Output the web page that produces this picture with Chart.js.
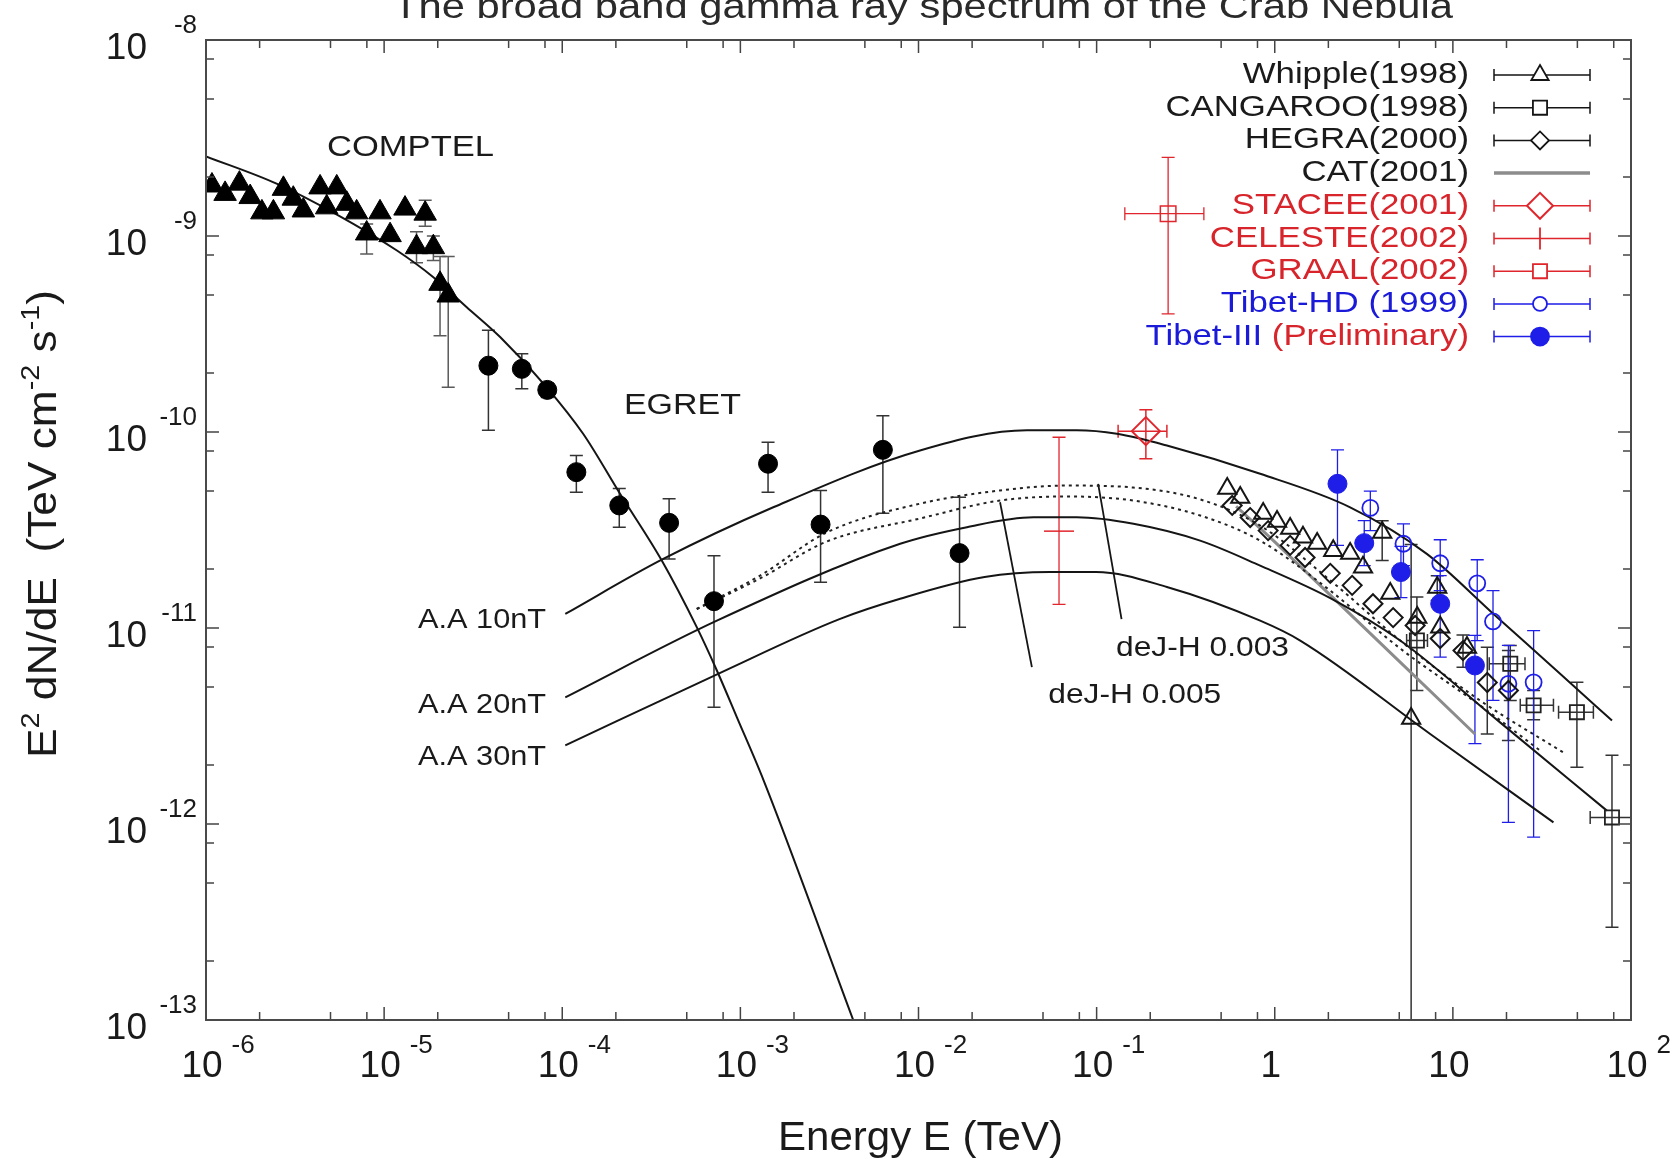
<!DOCTYPE html>
<html>
<head>
<meta charset="utf-8">
<script src="https://cdn.jsdelivr.net/npm/chart.js@4.4.1/dist/chart.umd.min.js"></script>
<style>html,body{margin:0;padding:0;background:#fff;overflow:hidden}canvas{display:block}</style>
</head>
<body>
<canvas id="c" width="1672" height="1161" style="width:1672px;height:1161px"></canvas>
<script>
// ================= DATA =================
// Energy in TeV, flux E^2 dN/dE in TeV cm^-2 s^-1
const comptelE = [1.08e-6,1.28e-6,1.54e-6,1.77e-6,2.06e-6,2.39e-6,2.72e-6,3.09e-6,3.52e-6,4.37e-6,4.76e-6,5.42e-6,6.17e-6,7.01e-6,7.98e-6,9.48e-6,1.08e-5,1.31e-5,1.52e-5,1.70e-5,1.89e-5,2.06e-5,2.29e-5];
const comptelF = [1.81e-9,1.64e-9,1.85e-9,1.58e-9,1.32e-9,1.32e-9,1.74e-9,1.55e-9,1.35e-9,1.77e-9,1.40e-9,1.77e-9,1.46e-9,1.32e-9,1.03e-9,1.32e-9,1.01e-9,1.38e-9,8.77e-10,1.30e-9,8.77e-10,5.70e-10,4.97e-10];
const comptelHi = [null,null,null,null,null,null,null,null,null,null,null,null,null,null,1.15e-9,null,null,null,1.05e-9,1.52e-9,1.0e-9,7.85e-10,7.85e-10];
const comptelLo = [null,null,null,null,null,null,null,null,null,null,null,null,null,null,8.1e-10,null,null,null,7.3e-10,1.12e-9,7.5e-10,3.10e-10,1.69e-10];

const egretE  = [3.85e-5,5.93e-5,8.24e-5,1.20e-4,2.09e-4,3.98e-4,7.11e-4,1.43e-3,2.82e-3,6.31e-3,1.70e-2];
const egretF  = [2.18e-10,2.10e-10,1.64e-10,6.24e-11,4.22e-11,3.44e-11,1.37e-11,6.89e-11,3.37e-11,8.11e-11,2.41e-11];
const egretHi = [3.30e-10,2.51e-10,1.78e-10,7.59e-11,5.15e-11,4.56e-11,2.34e-11,8.87e-11,5.03e-11,1.21e-10,4.65e-11];
const egretLo = [1.02e-10,1.66e-10,1.50e-10,4.93e-11,3.27e-11,2.25e-11,3.94e-12,4.93e-11,1.71e-11,3.85e-11,1.01e-11];

const whipE  = [0.541,0.640,0.861,1.03,1.22,1.44,1.73,2.13,2.65,3.13,4.01,4.45,5.83,6.31,8.17,8.49,12.0];
const whipF  = [5.15e-11,4.63e-11,3.84e-11,3.49e-11,3.22e-11,2.90e-11,2.70e-11,2.48e-11,2.40e-11,2.04e-11,3.07e-11,1.50e-11,3.45e-12,1.13e-11,1.61e-11,1.01e-11,7.96e-12];
const whipHi = [null,null,null,null,null,null,null,null,null,null,3.53e-11,null,2.67e-11,null,1.85e-11,null,null];
const whipLo = [null,null,null,null,null,null,null,null,null,null,2.21e-11,null,1.0e-14,null,1.38e-11,null,null];

const hegraE  = [0.577,0.728,0.918,1.22,1.48,2.05,2.72,3.56,4.62,6.14,8.49,11.4,15.6,20.5];
const hegraF  = [4.22e-11,3.66e-11,3.14e-11,2.64e-11,2.29e-11,1.90e-11,1.65e-11,1.33e-11,1.13e-11,1.03e-11,8.84e-12,7.67e-12,5.27e-12,4.80e-12];
const hegraHi = [null,null,null,null,null,null,null,null,null,null,null,9.2e-12,7.98e-12,7.67e-12];
const hegraLo = [null,null,null,null,null,null,null,null,null,null,null,6.3e-12,2.88e-12,2.67e-12];

const cangE   = [6.28,21.0,28.4,49.7,78.2];
const cangF   = [8.63e-12,6.57e-12,4.03e-12,3.72e-12,1.08e-12];
const cangHi  = [1.44e-11,8.15e-12,4.8e-12,5.28e-12,2.24e-12];
const cangLo  = [4.80e-12,4.27e-12,3.4e-12,1.95e-12,2.97e-13];
const cangXLo = [5.5,16.0,23.9,39.2,59.0];
const cangXHi = [7.2,25.4,36.7,61.5,100];

const staceeE = [0.189], staceeF = [1.01e-10], staceeHi = [1.30e-10], staceeLo = [7.30e-11], staceeXLo = [0.132], staceeXHi = [0.248];
const celesteE = [6.15e-2], celesteF = [3.12e-11], celesteHi = [9.40e-11], celesteLo = [1.32e-11];
const graalE = [0.252], graalF = [1.30e-9], graalHi = [2.52e-9], graalLo = [4.01e-10], graalXLo = [0.144], graalXHi = [0.40];

const tibetHdE  = [3.44,5.28,8.49,13.7,16.8,20.5,28.4];
const tibetHdF  = [4.10e-11,2.69e-11,2.14e-11,1.69e-11,1.08e-11,5.19e-12,5.28e-12];
const tibetHdHi = [4.99e-11,3.40e-11,2.82e-11,2.23e-11,1.55e-11,8.15e-12,9.70e-12];
const tibetHdLo = [3.14e-11,2.08e-11,1.55e-11,8.63e-12,4.27e-12,1.02e-12,8.57e-13];

const tibet3E  = [2.25,3.18,5.11,8.49,13.3];
const tibet3F  = [5.44e-11,2.71e-11,1.93e-11,1.33e-11,6.44e-12];
const tibet3Hi = [8.11e-11,3.53e-11,2.61e-11,1.85e-11,9.16e-12];
const tibet3Lo = [2.64e-11,2.08e-11,1.43e-11,7.10e-12,2.57e-12];

// model curves
const syncE = [1.0e-6,2.49e-6,5.4e-6,1.18e-5,1.89e-5,2.91e-5,4.48e-5,8.18e-5,1.31e-4,2.11e-4,3.62e-4,5.69e-4,7.38e-4,9.55e-4,1.35e-3,4.3e-3];
const syncF = [2.55e-9,1.85e-9,1.29e-9,8.43e-10,6.16e-10,4.33e-10,3.05e-10,1.69e-10,9.79e-11,4.84e-11,2.21e-11,1.01e-11,6.07e-12,3.51e-12,1.67e-12,1.0e-13];
const aa10E = [1.04e-4,3.62e-4,1.53e-3,1.02e-2,4.06e-2,7.74e-2,0.130,0.248,0.828,2.65,7.14,16.9,40.0,78.2];
const aa10F = [1.18e-11,2.23e-11,4.13e-11,8.05e-11,1.02e-10,1.02e-10,9.79e-11,8.53e-11,6.12e-11,4.13e-11,2.39e-11,1.18e-11,5.84e-12,3.37e-12];
const aa20E = [1.04e-4,7.38e-4,7.89e-3,1.87e-2,4.42e-2,7.74e-2,0.161,0.381,0.828,2.05,5.06,18.4,73.2];
const aa20F = [4.43e-12,1.09e-11,2.69e-11,3.27e-11,3.67e-11,3.67e-11,3.40e-11,2.79e-11,2.08e-11,1.42e-11,8.63e-12,3.30e-12,1.17e-12];
const aa30E = [1.04e-4,7.50e-4,3.60e-3,7.89e-3,2.35e-2,5.48e-2,9.93e-2,0.248,0.828,1.39,7.46,36.7];
const aa30F = [2.52e-12,5.84e-12,1.11e-11,1.41e-11,1.82e-11,1.93e-11,1.93e-11,1.62e-11,1.09e-11,8.63e-12,2.88e-12,1.02e-12];
const dj3E = [5.69e-4,1.29e-3,3.05e-3,1.02e-2,2.87e-2,6.75e-2,0.160,0.381,0.828,2.05,5.06,14.2,41.6];
const dj3F = [1.25e-11,1.85e-11,3.07e-11,4.31e-11,5.03e-11,5.33e-11,5.21e-11,4.53e-11,3.33e-11,1.75e-11,8.63e-12,4.27e-12,2.32e-12];
const dj5E = [5.69e-4,1.29e-3,3.05e-3,1.02e-2,2.87e-2,6.75e-2,0.160,0.381,0.828,2.05,5.06,14.2,30.9];
const dj5F = [1.25e-11,1.79e-11,2.76e-11,3.62e-11,4.47e-11,4.69e-11,4.47e-11,3.75e-11,2.79e-11,1.55e-11,7.86e-12,4.03e-12,2.37e-12];
const catE = [0.607,1.0,13.3];
const catF = [4.17e-11,2.75e-11,2.88e-12];
const ptr3E = [0.102,0.138], ptr3F = [5.44e-11,1.11e-11];
const ptr5E = [2.87e-2,4.33e-2], ptr5F = [4.38e-11,6.31e-12];

// axes / ticks
const xDecades = [-6,-5,-4,-3,-2,-1,0,1,2];
const xTickBase = ['10','10','10','10','10','10','1','10','10'];
const xTickSup  = ['-6','-5','-4','-3','-2','-1','','','2'];
const yDecades = [-8,-9,-10,-11,-12,-13];
const yTickSup  = ['-8','-9','-10','-11','-12','-13'];
const minorMult = [2,5,8];

// texts
const titleText = 'The broad band gamma ray spectrum of the Crab Nebula';
const xTitle = 'Energy E (TeV)';
const yTitleParts = [['E',0],['2',1],[' dN/dE  (TeV cm',0],['-2',1],[' s',0],['-1',1],[')',0]];
const noteText = ['COMPTEL','EGRET','A.A 10nT','A.A 20nT','A.A 30nT','deJ-H 0.003','deJ-H 0.005'];
const noteE = [4.78e-6,2.22e-4,8.11e-5,8.11e-5,8.11e-5,0.1285,5.35e-2];
const noteF = [2.83e-9,1.36e-10,1.09e-11,4.03e-12,2.18e-12,7.85e-12,4.53e-12];
const legendLabels = [
  [['Whipple(1998)','k']],[['CANGAROO(1998)','k']],[['HEGRA(2000)','k']],[['CAT(2001)','k']],
  [['STACEE(2001)','r']],[['CELESTE(2002)','r']],[['GRAAL(2002)','r']],
  [['Tibet-HD (1999)','b']],[['Tibet-III','b'],[' (Preliminary)','r']]
];

// ================= STYLE / LAYOUT =================
const FONT = '"Liberation Sans", Arial, Helvetica, sans-serif';
const RED = '#e0262c', BLUE = '#1e1ee8', INK = '#151515';
const TXT = {k:'#1a1a1a', r:'#d8242b', b:'#1a1ad8'};
const noteStyle = [
  {size:30,width:167,align:'left'},{size:30,width:117,align:'left'},
  {size:28,width:128,align:'right'},{size:28,width:128,align:'right'},{size:28,width:128,align:'right'},
  {size:28,width:173,align:'left'},{size:28,width:173,align:'left'}
];
const legendSym = [
  {s:'triangle',r:10,c:INK,f:null},{s:'rect',r:10,c:INK,f:null},{s:'rectRot',r:9,c:INK,f:null},
  {s:'cat'},{s:'rectRot',r:13,c:RED,f:null,lw:2},{s:'plus',r:11,c:RED},{s:'rect',r:10,c:RED,f:null},
  {s:'circle',r:7,c:BLUE,f:null},{s:'circle',r:9,c:BLUE,f:BLUE}
];

const P = (xs, ys) => xs.map((x, i) => ({x: x, y: ys[i]}));
const TRANSP = 'rgba(0,0,0,0)';

function marks(label, xs, ys, style, r, fill, stroke, bw, eb) {
  return {type:'scatter', label, data:P(xs,ys), pointStyle:style, pointRadius:r, pointHoverRadius:r,
    pointBackgroundColor:fill, pointBorderColor:stroke, backgroundColor:fill, borderColor:stroke,
    pointBorderWidth:bw, borderWidth:bw, showLine:false, order:1, errorBars:eb};
}
function curve(label, xs, ys, extra) {
  return Object.assign({type:'line', label, data:P(xs,ys), borderColor:INK, borderWidth:2, pointRadius:0,
    pointHoverRadius:0, fill:false, showLine:true, cubicInterpolationMode:'monotone', order:5}, extra || {});
}

const datasets = [
  marks('COMPTEL', comptelE, comptelF, 'triangle', 13, '#000', '#000', 1, {hi:comptelHi, lo:comptelLo, color:'#5a5a5a'}),
  marks('EGRET', egretE, egretF, 'circle', 9.5, '#000', '#000', 1, {hi:egretHi, lo:egretLo, color:'#333'}),
  marks('Whipple(1998)', whipE, whipF, 'triangle', 10.5, TRANSP, INK, 2, {hi:whipHi, lo:whipLo, color:'#333'}),
  marks('CANGAROO(1998)', cangE, cangF, 'rect', 10, TRANSP, '#222', 1.8, {hi:cangHi, lo:cangLo, xlo:cangXLo, xhi:cangXHi, color:'#333'}),
  marks('HEGRA(2000)', hegraE, hegraF, 'rectRot', 9.5, TRANSP, INK, 2, {hi:hegraHi, lo:hegraLo, color:'#333'}),
  marks('STACEE(2001)', staceeE, staceeF, 'rectRot', 14, TRANSP, RED, 2, {hi:staceeHi, lo:staceeLo, xlo:staceeXLo, xhi:staceeXHi, color:RED}),
  marks('CELESTE(2002)', celesteE, celesteF, 'line', 15, RED, RED, 1.5, {hi:celesteHi, lo:celesteLo, color:RED, width:1.3}),
  marks('GRAAL(2002)', graalE, graalF, 'rect', 11, TRANSP, RED, 1.5, {hi:graalHi, lo:graalLo, xlo:graalXLo, xhi:graalXHi, color:RED, width:1.3}),
  marks('Tibet-HD (1999)', tibetHdE, tibetHdF, 'circle', 8, TRANSP, BLUE, 1.8, {hi:tibetHdHi, lo:tibetHdLo, color:BLUE, width:1.3}),
  marks('Tibet-III (Preliminary)', tibet3E, tibet3F, 'circle', 9.5, BLUE, BLUE, 1, {hi:tibet3Hi, lo:tibet3Lo, color:BLUE, width:1.3}),
  curve('sync', syncE, syncF),
  curve('A.A 10nT', aa10E, aa10F),
  curve('A.A 20nT', aa20E, aa20F),
  curve('A.A 30nT', aa30E, aa30F),
  curve('deJ-H 0.003', dj3E, dj3F, {borderDash:[3,4], borderColor:'#222', borderWidth:2}),
  curve('deJ-H 0.005', dj5E, dj5F, {borderDash:[3,4], borderColor:'#222', borderWidth:2}),
  curve('CAT(2001)', catE, catF, {borderColor:'#8c8c8c', borderWidth:3, cubicInterpolationMode:'default', tension:0.2}),
  curve('ptr3', ptr3E, ptr3F, {cubicInterpolationMode:'default', tension:0, borderWidth:1.8}),
  curve('ptr5', ptr5E, ptr5F, {cubicInterpolationMode:'default', tension:0, borderWidth:1.8})
];

// ================= HELPERS =================
function drawText(ctx, s, x, y, size, o) {
  o = o || {};
  ctx.save();
  ctx.font = size + 'px ' + FONT;
  ctx.fillStyle = o.color || '#1a1a1a';
  ctx.textBaseline = o.base || 'alphabetic';
  ctx.textAlign = 'left';
  const w = ctx.measureText(s).width;
  const sx = o.width ? o.width / w : (o.sx || 1);
  const W = w * sx;
  let x0 = x;
  if (o.align === 'center') x0 = x - W / 2; else if (o.align === 'right') x0 = x - W;
  ctx.translate(x0, y); ctx.scale(sx, 1); ctx.fillText(s, 0, 0);
  ctx.restore();
  return W;
}
function drawMarker(ctx, s, x, y, r, stroke, fill, lw) {
  ctx.save();
  ctx.strokeStyle = stroke; ctx.lineWidth = lw || 1.5;
  ctx.beginPath();
  if (s === 'triangle') { ctx.moveTo(x, y - r); ctx.lineTo(x + r * 0.866, y + r * 0.5); ctx.lineTo(x - r * 0.866, y + r * 0.5); ctx.closePath(); }
  else if (s === 'rect') { const h = r * Math.SQRT1_2; ctx.rect(x - h, y - h, 2 * h, 2 * h); }
  else if (s === 'rectRot') { ctx.moveTo(x - r, y); ctx.lineTo(x, y - r); ctx.lineTo(x + r, y); ctx.lineTo(x, y + r); ctx.closePath(); }
  else if (s === 'circle') { ctx.arc(x, y, r, 0, Math.PI * 2); }
  else if (s === 'plus') { ctx.moveTo(x, y - r); ctx.lineTo(x, y + r); }
  if (fill) { ctx.fillStyle = fill; ctx.fill(); }
  ctx.stroke();
  ctx.restore();
}

const errorBarPlugin = {
  id: 'errbars',
  beforeDatasetsDraw(chart) {
    const ctx = chart.ctx, a = chart.chartArea, xs = chart.scales.x, ys = chart.scales.y;
    ctx.save();
    ctx.beginPath(); ctx.rect(a.left, a.top, a.right - a.left, a.bottom - a.top); ctx.clip();
    chart.data.datasets.forEach(ds => {
      const eb = ds.errorBars; if (!eb) return;
      ctx.strokeStyle = eb.color; ctx.lineWidth = eb.width || 1.5;
      const cap = eb.cap || 6.5;
      ds.data.forEach((p, i) => {
        const px = xs.getPixelForValue(p.x), py = ys.getPixelForValue(p.y);
        ctx.beginPath();
        const hi = eb.hi ? eb.hi[i] : null, lo = eb.lo ? eb.lo[i] : null;
        if (hi != null || lo != null) {
          const y1 = ys.getPixelForValue(hi != null ? hi : p.y);
          const y2 = ys.getPixelForValue(lo != null ? lo : p.y);
          ctx.moveTo(px, y1); ctx.lineTo(px, y2);
          if (hi != null) { ctx.moveTo(px - cap, y1); ctx.lineTo(px + cap, y1); }
          if (lo != null) { ctx.moveTo(px - cap, y2); ctx.lineTo(px + cap, y2); }
        }
        const xl = eb.xlo ? eb.xlo[i] : null, xh = eb.xhi ? eb.xhi[i] : null;
        if (xl != null || xh != null) {
          const x1 = xs.getPixelForValue(xl != null ? xl : p.x);
          const x2 = xs.getPixelForValue(xh != null ? xh : p.x);
          ctx.moveTo(x1, py); ctx.lineTo(x2, py);
          if (xl != null) { ctx.moveTo(x1, py - cap); ctx.lineTo(x1, py + cap); }
          if (xh != null) { ctx.moveTo(x2, py - cap); ctx.lineTo(x2, py + cap); }
        }
        ctx.stroke();
      });
    });
    ctx.restore();
  }
};

const decoPlugin = {
  id: 'deco',
  afterDraw(chart) {
    const ctx = chart.ctx, a = chart.chartArea, xs = chart.scales.x, ys = chart.scales.y;
    // ticks (inward, mirrored)
    ctx.save();
    ctx.strokeStyle = '#444'; ctx.lineWidth = 1.5;
    ctx.beginPath();
    xDecades.forEach((k, idx) => {
      const mults = idx === xDecades.length - 1 ? [1] : [1].concat(minorMult);
      mults.forEach(m => {
        const px = xs.getPixelForValue(m * Math.pow(10, k));
        const L = m === 1 ? 13 : 8;
        ctx.moveTo(px, a.bottom); ctx.lineTo(px, a.bottom - L);
        ctx.moveTo(px, a.top); ctx.lineTo(px, a.top + L);
      });
    });
    yDecades.forEach((k, idx) => {
      const mults = idx === 0 ? [1] : [1].concat(minorMult);
      mults.forEach(m => {
        const py = ys.getPixelForValue(m * Math.pow(10, k));
        const L = m === 1 ? 13 : 8;
        ctx.moveTo(a.left, py); ctx.lineTo(a.left + L, py);
        ctx.moveTo(a.right, py); ctx.lineTo(a.right - L, py);
      });
    });
    ctx.stroke();
    ctx.lineWidth = 2; ctx.strokeStyle = '#4a4a4a';
    ctx.strokeRect(a.left, a.top, a.right - a.left, a.bottom - a.top);
    ctx.restore();

    // x tick labels
    xDecades.forEach((k, i) => {
      const px = xs.getPixelForValue(Math.pow(10, k));
      const cx = px - 4;
      const w = drawText(ctx, xTickBase[i], cx, a.bottom + 57, 37, {align:'center', color:'#1a1a1a'});
      if (xTickSup[i]) drawText(ctx, xTickSup[i], cx + w / 2 + 9, a.bottom + 33, 26, {color:'#1a1a1a'});
    });
    // y tick labels
    yDecades.forEach((k, i) => {
      const py = ys.getPixelForValue(Math.pow(10, k));
      drawText(ctx, '10', a.left - 59, py + 19, 37, {align:'right', color:'#1a1a1a'});
      drawText(ctx, yTickSup[i], a.left - 9, py - 7, 26, {align:'right', color:'#1a1a1a'});
    });

    // title (partly cut by the top edge)
    drawText(ctx, titleText, 923, 18, 35, {align:'center', width:1060, color:'#2a2a2a'});
    // x title
    drawText(ctx, xTitle, 920.5, 1150, 40, {align:'center', width:285, color:'#1a1a1a'});
    // y title (rotated, with superscripts)
    ctx.save();
    ctx.translate(56, 524); ctx.rotate(-Math.PI / 2);
    let tot = 0;
    const ws = yTitleParts.map(p => { ctx.font = (p[1] ? 26 : 40) + 'px ' + FONT; const w = ctx.measureText(p[0]).width; tot += w; return w; });
    const sx = 468 / tot;
    let cx = -234;
    yTitleParts.forEach((p, i) => {
      ctx.save();
      ctx.font = (p[1] ? 26 : 40) + 'px ' + FONT;
      ctx.fillStyle = '#1a1a1a';
      ctx.translate(cx, p[1] ? -17 : 0); ctx.scale(sx, 1);
      ctx.fillText(p[0], 0, 0);
      ctx.restore();
      cx += ws[i] * sx;
    });
    ctx.restore();

    // annotations
    noteText.forEach((t, i) => {
      const px = xs.getPixelForValue(noteE[i]), py = ys.getPixelForValue(noteF[i]);
      const st = noteStyle[i];
      drawText(ctx, t, px, py, st.size, {align:st.align, width:st.width, base:'middle', color:'#1a1a1a'});
    });

    // legend
    const rightX = 1469, y0 = 75, dy = 32.7;
    legendLabels.forEach((parts, r) => {
      const y = y0 + r * dy;
      let x = rightX;
      for (let j = parts.length - 1; j >= 0; j--) {
        x -= drawText(ctx, parts[j][0], x, y, 29, {align:'right', sx:1.2, base:'middle', color:TXT[parts[j][1]]});
      }
      const sym = legendSym[r];
      ctx.save();
      if (sym.s === 'cat') {
        ctx.strokeStyle = '#8c8c8c'; ctx.lineWidth = 3.5;
        ctx.beginPath(); ctx.moveTo(1494, y); ctx.lineTo(1590, y); ctx.stroke();
      } else {
        ctx.strokeStyle = sym.c; ctx.lineWidth = 1.5;
        ctx.beginPath();
        ctx.moveTo(1494, y); ctx.lineTo(1590, y);
        ctx.moveTo(1494, y - 6); ctx.lineTo(1494, y + 6);
        ctx.moveTo(1590, y - 6); ctx.lineTo(1590, y + 6);
        ctx.stroke();
        drawMarker(ctx, sym.s, 1540, y, sym.r, sym.c, sym.f || (sym.s === 'plus' ? null : '#fff'), sym.lw || 1.8);
      }
      ctx.restore();
    });
  }
};

new Chart(document.getElementById('c'), {
  type: 'scatter',
  data: { datasets: datasets },
  options: {
    responsive: false,
    animation: false,
    devicePixelRatio: 1,
    layout: { padding: { left: 206, right: 41, top: 40, bottom: 141 } },
    plugins: { legend: { display: false }, tooltip: { enabled: false }, title: { display: false } },
    scales: {
      x: { type: 'logarithmic', min: 1e-6, max: 1e2,
           ticks: { display: false }, grid: { display: false, drawTicks: false }, border: { display: false },
           afterFit(s) { s.height = 0; } },
      y: { type: 'logarithmic', min: 1e-13, max: 1e-8,
           ticks: { display: false }, grid: { display: false, drawTicks: false }, border: { display: false },
           afterFit(s) { s.width = 0; } }
    }
  },
  plugins: [errorBarPlugin, decoPlugin]
});
</script>
</body>
</html>
